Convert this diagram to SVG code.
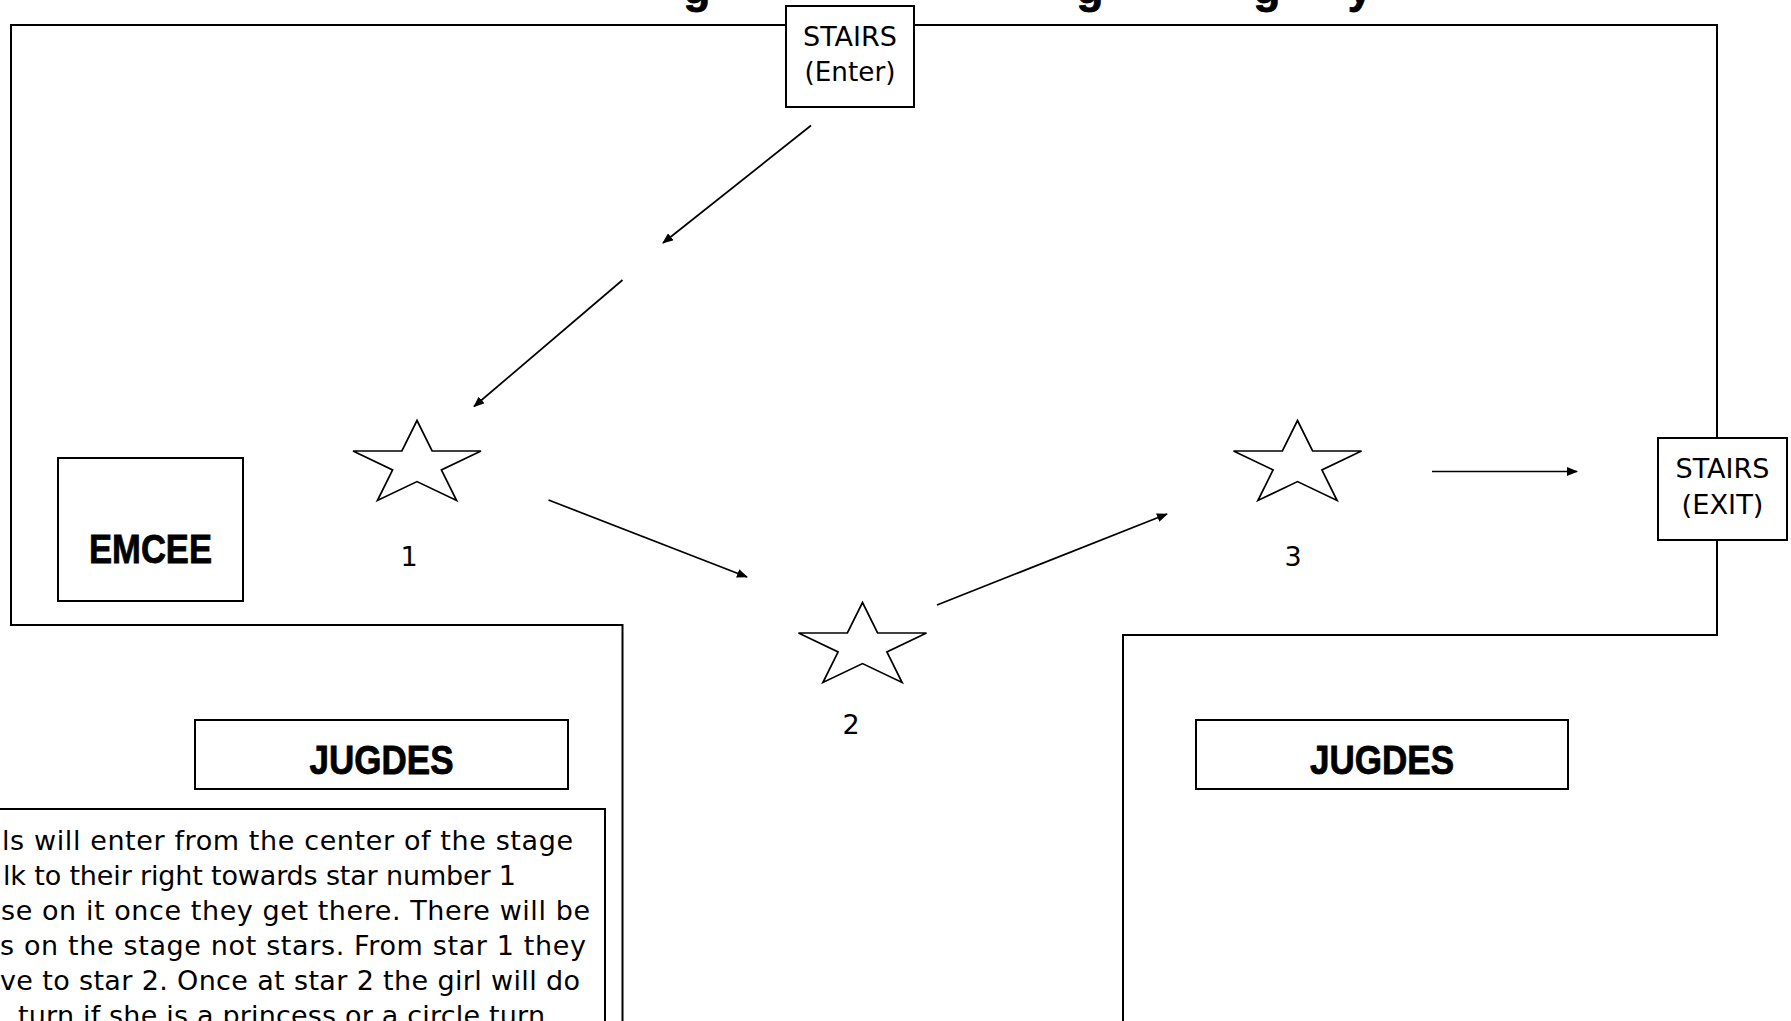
<svg xmlns="http://www.w3.org/2000/svg" xmlns:xlink="http://www.w3.org/1999/xlink" width="1791" height="1021" viewBox="0 0 1791 1021">
  <style>
    .wall { fill: none; stroke: #000; stroke-width: 2; }
    .box { fill: #fff; stroke: #000; stroke-width: 2; }
    .conn { fill: none; stroke: #000; stroke-width: 1.7; }
    .star { fill: #fff; stroke: #000; stroke-width: 1.7; stroke-linejoin: miter; }
    .lbl { font-family: "DejaVu Sans", "Open Sans", sans-serif; font-size: 27px; fill: #000; }
    .head { font-family: "Liberation Sans", Arial, sans-serif; font-weight: bold; fill: #000; stroke: #000; stroke-width: 0.8; }
    .body { font-family: "DejaVu Sans", "Open Sans", sans-serif; font-size: 27px; fill: #000; }
  </style>
  <defs>
    <marker id="arrow" markerUnits="userSpaceOnUse" markerWidth="11" markerHeight="9" refX="10" refY="4.5" orient="auto">
      <path d="M0,0 L11,4.5 L0,9 z" fill="#000"/>
    </marker>
    <polygon id="starShape" class="star" points="0,0 15.1,30.5 64,30.5 24.4,49.4 39.6,80 0,61.1 -39.6,80 -24.4,49.4 -64,30.5 -15.1,30.5"/>
  </defs>
  <rect width="1791" height="1021" fill="#fff"/>

  <!-- clipped title descenders -->
  <g id="title" class="head" font-size="44">
    <text x="697" y="3" text-anchor="middle">g</text>
    <text x="1090" y="3" text-anchor="middle">g</text>
    <text x="1267" y="3" text-anchor="middle">g</text>
    <text x="1360" y="3" text-anchor="middle">y</text>
  </g>

  <!-- stage outline -->
  <g id="stage">
    <path class="wall" d="M786,25 H11 V625 H622.5 V1030"/>
    <path class="wall" d="M914,25 H1717 V635 H1123 V1030"/>
  </g>

  <!-- connectors -->
  <g id="connectors">
    <line class="conn" x1="811" y1="125.5" x2="663" y2="243" marker-end="url(#arrow)"/>
    <line class="conn" x1="622.5" y1="280" x2="474" y2="406.5" marker-end="url(#arrow)"/>
    <line class="conn" x1="548.5" y1="500" x2="747" y2="577" marker-end="url(#arrow)"/>
    <line class="conn" x1="937" y1="605" x2="1167" y2="514" marker-end="url(#arrow)"/>
    <line class="conn" x1="1432" y1="471.5" x2="1577" y2="471.5" marker-end="url(#arrow)"/>
  </g>

  <g id="stairs-enter">
    <rect class="box" x="786" y="6" width="128" height="101"/>
    <text class="lbl" x="850" y="46" text-anchor="middle" textLength="94" lengthAdjust="spacingAndGlyphs">STAIRS</text>
    <text class="lbl" x="850" y="81" text-anchor="middle" textLength="91" lengthAdjust="spacingAndGlyphs">(Enter)</text>
  </g>

  <g id="stairs-exit">
    <rect class="box" x="1658" y="438" width="129" height="102"/>
    <text class="lbl" x="1722.5" y="478" text-anchor="middle" textLength="94" lengthAdjust="spacingAndGlyphs">STAIRS</text>
    <text class="lbl" x="1722.5" y="514" text-anchor="middle" textLength="82" lengthAdjust="spacingAndGlyphs">(EXIT)</text>
  </g>

  <g id="emcee">
    <rect class="box" x="58" y="458" width="185" height="143"/>
    <text class="head" x="150.5" y="563" font-size="41" text-anchor="middle" textLength="123" lengthAdjust="spacingAndGlyphs">EMCEE</text>
  </g>

  <g id="star-1">
    <use xlink:href="#starShape" href="#starShape" transform="translate(417,420.5)"/>
    <text class="lbl" x="409" y="566" text-anchor="middle">1</text>
  </g>

  <g id="star-2">
    <use xlink:href="#starShape" href="#starShape" transform="translate(862.5,602.5)"/>
    <text class="lbl" x="851" y="734" text-anchor="middle">2</text>
  </g>

  <g id="star-3">
    <use xlink:href="#starShape" href="#starShape" transform="translate(1297.5,420.5)"/>
    <text class="lbl" x="1293" y="566" text-anchor="middle">3</text>
  </g>

  <g id="judges-left">
    <rect class="box" x="195" y="720" width="373" height="69"/>
    <text class="head" x="381.5" y="774" font-size="40" text-anchor="middle" textLength="144" lengthAdjust="spacingAndGlyphs">JUGDES</text>
  </g>

  <g id="judges-right">
    <rect class="box" x="1196" y="720" width="372" height="69"/>
    <text class="head" x="1382" y="774" font-size="40" text-anchor="middle" textLength="144" lengthAdjust="spacingAndGlyphs">JUGDES</text>
  </g>

  <g id="instructions">
    <rect class="box" x="-5" y="809" width="610" height="260"/>
    <text class="body" x="2" y="849.5" textLength="571">ls will enter from the center of the stage</text>
    <text class="body" x="3" y="884.5" textLength="513">lk to their right towards star number 1</text>
    <text class="body" x="1" y="919.5" textLength="589">se on it once they get there. There will be</text>
    <text class="body" x="0" y="954.5" textLength="586">s on the stage not stars. From star 1 they</text>
    <text class="body" x="0" y="989.5" textLength="580">ve to star 2. Once at star 2 the girl will do</text>
    <text class="body" x="18" y="1024.5" textLength="527">turn if she is a princess or a circle turn</text>
  </g>
</svg>
